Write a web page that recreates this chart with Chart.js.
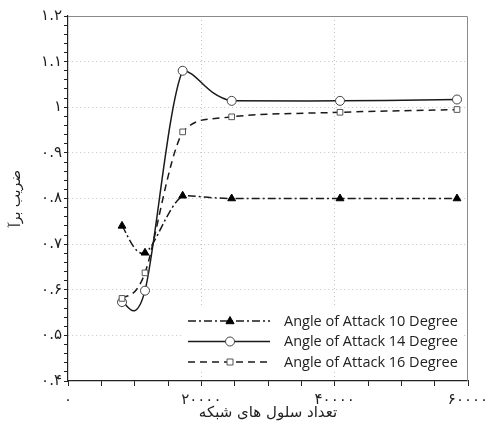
<!DOCTYPE html>
<html>
<head>
<meta charset="utf-8">
<script src="https://cdn.jsdelivr.net/npm/chart.js@4.4.1/dist/chart.umd.min.js"></script>
<style>
  html, body { margin: 0; padding: 0; background: #fff; }
  #wrap { width: 489px; height: 430px; }
</style>
</head>
<body>
<div id="wrap"><canvas id="myChart" width="489" height="430"></canvas></div>
<script>
// تعداد سلول های شبکه
const cellCounts = [8100, 11550, 17200, 24550, 40800, 58350]
const aoa10 = [0.740, 0.681, 0.806, 0.800, 0.800, 0.800]
const aoa14 = [0.573, 0.598, 1.080, 1.014, 1.014, 1.017]
const aoa16 = [0.581, 0.637, 0.946, 0.979, 0.989, 0.995]
const seriesNames = ['Angle of Attack 10 Degree', 'Angle of Attack 14 Degree', 'Angle of Attack 16 Degree']
const xTicks = [0, 20000, 40000, 60000]
const yTicks = [0.4, 0.5, 0.6, 0.7, 0.8, 0.9, 1.0, 1.1, 1.2]

const faDigits = '۰۱۲۳۴۵۶۷۸۹'
const toFa = (s) => String(s).replace(/[0-9]/g, d => faDigits[d])

const pts = (ys) => cellCounts.map((x, i) => ({ x: x, y: ys[i] }))

const isMajor = (v, list) => list.some(t => Math.abs(t - v) < 1e-6)

// spreadsheet-like smoothing: catmull-rom tangents, outgoing handle kept inside the next segment
const smoothPlugin = {
    id: 'smooth',
    beforeDatasetsDraw(chart) {
        chart.data.datasets.forEach((ds, di) => {
            const meta = chart.getDatasetMeta(di)
            meta.dataset.updateControlPoints(chart.chartArea, 'x')
            const p = meta.data
            const n = p.length
            for (let i = 0; i < n; i++) {
                const prev = p[Math.max(i - 1, 0)]
                const next = p[Math.min(i + 1, n - 1)]
                const tx = (next.x - prev.x) / 6
                const ty = (next.y - prev.y) / 6
                p[i].cp1x = p[i].x - tx
                p[i].cp1y = p[i].y - ty
                let oy = p[i].y + ty
                if (i < n - 1) {
                    const lo = Math.min(p[i].y, next.y)
                    const hi = Math.max(p[i].y, next.y)
                    oy = Math.min(hi, Math.max(lo, oy))
                }
                p[i].cp2x = p[i].x + tx
                p[i].cp2y = oy
            }
        })
    }
}

// legend drawn by hand so that the dash patterns show
const legendPlugin = {
    id: 'legendBox',
    afterDatasetsDraw(chart) {
        const ctx = chart.ctx
        const a = chart.chartArea
        ctx.save()
        // top / right frame
        ctx.strokeStyle = '#8a8a8a'
        ctx.lineWidth = 1
        ctx.beginPath()
        ctx.moveTo(a.left, a.top + 0.5)
        ctx.lineTo(a.right - 0.5, a.top + 0.5)
        ctx.lineTo(a.right - 0.5, a.bottom)
        ctx.stroke()

        const x0 = 188, y0 = 321, rowH = 20.5
        ctx.fillStyle = '#fff'
        ctx.fillRect(184, 308, 279, 64)
        chart.data.datasets.forEach((ds) => {
            const idx = seriesNames.indexOf(ds.label)
            const y = y0 + idx * rowH
            ctx.strokeStyle = ds.borderColor
            ctx.lineWidth = ds.borderWidth
            ctx.setLineDash(ds.borderDash || [])
            ctx.beginPath()
            ctx.moveTo(x0, y)
            ctx.lineTo(x0 + 82, y)
            ctx.stroke()
            ctx.setLineDash([])
            const cx = x0 + 42
            ctx.lineWidth = 1
            ctx.fillStyle = ds.pointBackgroundColor
            ctx.strokeStyle = ds.pointBorderColor
            const r = ds.pointRadius
            ctx.beginPath()
            if (ds.pointStyle === 'triangle') {
                ctx.moveTo(cx, y - r)
                ctx.lineTo(cx + r * 0.9, y + r * 0.6)
                ctx.lineTo(cx - r * 0.9, y + r * 0.6)
                ctx.closePath()
            } else if (ds.pointStyle === 'rect') {
                ctx.rect(cx - r * 0.75, y - r * 0.75, r * 1.5, r * 1.5)
            } else {
                ctx.arc(cx, y, r, 0, Math.PI * 2)
            }
            ctx.fill()
            ctx.stroke()
            ctx.fillStyle = '#222'
            ctx.font = '14.5px "Open Sans", sans-serif'
            ctx.textBaseline = 'middle'
            ctx.textAlign = 'left'
            ctx.fillText(ds.label, 284, y + 0.5)
        })
        ctx.restore()
    }
}

const ctx = document.getElementById('myChart')
const myChart = new Chart(ctx, {
    type: 'line',
    data: {
        datasets: [{
            label: seriesNames[2],
            data: pts(aoa16),
            borderColor: '#1a1a1a',
            borderWidth: 1.5,
            borderDash: [7, 5],
            pointStyle: 'rect',
            pointRadius: 4,
            pointBackgroundColor: '#fff',
            pointBorderColor: '#555',
            pointBorderWidth: 1,
            tension: 0.3
        }, {
            label: seriesNames[1],
            data: pts(aoa14),
            borderColor: '#1a1a1a',
            borderWidth: 1.5,
            pointStyle: 'circle',
            pointRadius: 4.5,
            pointBackgroundColor: '#fff',
            pointBorderColor: '#444',
            pointBorderWidth: 1,
            tension: 0.3
        }, {
            label: seriesNames[0],
            data: pts(aoa10),
            borderColor: '#1a1a1a',
            borderWidth: 1.5,
            borderDash: [8, 3, 2, 3],
            pointStyle: 'triangle',
            pointRadius: 4.5,
            pointBackgroundColor: '#000',
            pointBorderColor: '#000',
            pointBorderWidth: 1,
            tension: 0.3
        }]
    },
    options: {
        animation: false,
        responsive: false,
        layout: { padding: { top: 16, right: 21, left: 0, bottom: 8 } },
        plugins: {
            legend: { display: false },
            tooltip: { enabled: false }
        },
        scales: {
            x: {
                type: 'linear',
                min: 0,
                max: 60000,
                afterFit: (s) => { s.height = 41; s.paddingLeft = 0; s.paddingRight = 0 },
                afterBuildTicks: (s) => {
                    const t = []
                    for (let v = 0; v <= 60000; v += 5000) t.push({ value: v })
                    s.ticks = t
                },
                ticks: {
                    autoSkip: false,
                    maxRotation: 0,
                    padding: 5,
                    color: '#222',
                    font: { family: '"DejaVu Sans", sans-serif', size: 15 },
                    callback: (v) => isMajor(v, xTicks) ? toFa(v) : ''
                },
                grid: {
                    drawOnChartArea: true,
                    tickLength: 5,
                    tickColor: '#222',
                    color: (c) => (c.tick && isMajor(c.tick.value, xTicks) && c.tick.value > 0 && c.tick.value < 60000) ? '#c4c4c4' : 'transparent'
                },
                border: { color: '#222', width: 1.2, dash: [1, 3] },
                title: {
                    display: true,
                    text: 'تعداد سلول های شبکه',
                    color: '#222',
                    padding: { top: 0, bottom: 0 },
                    font: { family: '"DejaVu Sans", sans-serif', size: 15 }
                }
            },
            y: {
                min: 0.4,
                max: 1.2,
                afterFit: (s) => { s.width = 68; s.paddingTop = 0; s.paddingBottom = 0 },
                afterBuildTicks: (s) => {
                    const t = []
                    for (let k = 0; k <= 40; k++) t.push({ value: Math.round((0.4 + k * 0.02) * 100) / 100 })
                    s.ticks = t
                },
                ticks: {
                    autoSkip: false,
                    padding: 2,
                    color: '#222',
                    font: { family: '"DejaVu Sans", sans-serif', size: 15 },
                    callback: (v) => {
                        if (!isMajor(v, yTicks)) return ''
                        let s = v.toFixed(1)
                        if (s.endsWith('.0')) s = s.slice(0, -2)
                        return toFa(s)
                    }
                },
                grid: {
                    tickLength: 4,
                    tickColor: '#222',
                    color: (c) => (c.tick && isMajor(c.tick.value, yTicks) && c.tick.value > 0.41 && c.tick.value < 1.19) ? '#c4c4c4' : 'transparent'
                },
                border: { color: '#222', width: 1.2, dash: [1, 3] },
                title: {
                    display: true,
                    text: 'ضریب برآ',
                    color: '#222',
                    padding: { top: 8, bottom: 0 },
                    font: { family: '"DejaVu Sans", sans-serif', size: 14 }
                }
            }
        }
    },
    plugins: [smoothPlugin, legendPlugin]
})
</script>
</body>
</html>
